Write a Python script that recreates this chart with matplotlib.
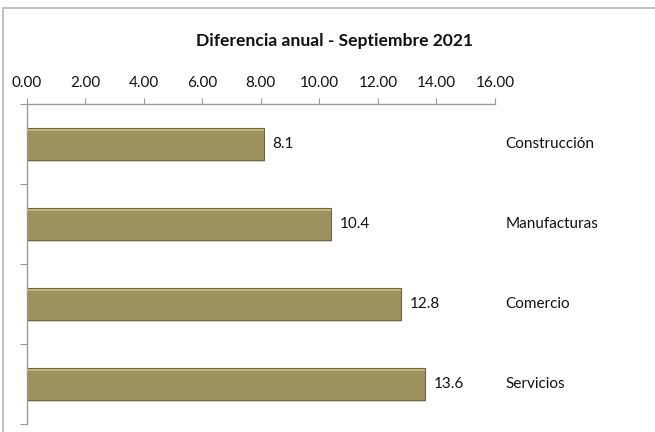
import matplotlib
matplotlib.use("Agg")
import matplotlib.pyplot as plt
from matplotlib.patches import Rectangle
import numpy as np

sectores = ["Construcción", "Manufacturas", "Comercio", "Servicios"]
valores = [8.1, 10.4, 12.8, 13.6]
xticks = [0, 2, 4, 6, 8, 10, 12, 14, 16]
titulo = "Diferencia anual - Septiembre 2021"

plt.rcParams['font.family'] = ['Lato', 'DejaVu Sans']

W, H = 655, 432
fig = plt.figure(figsize=(W / 100, H / 100), dpi=100)

# chart area border (only top and left edges are visible)
fig.patches.append(Rectangle((3 / W, -0.1), 2, 1.1 - 8 / H, transform=fig.transFigure,
                             fill=False, edgecolor='#c0c0c0', linewidth=1.4))

ax = fig.add_axes([26.5 / W, 1 - 424 / H, (495 - 26.5) / W, (424 - 104) / H])

pos = np.arange(len(sectores)) + 0.5
gris = '#9a9a9a'

# shadow, bar, bevel highlight
ax.barh(pos + 0.03, valores, height=0.4, left=0.04, color='#d9d9d9', zorder=1)
ax.barh(pos, valores, height=0.4, color='#9d915e', edgecolor='#6f6640', linewidth=0.8, zorder=2)
ax.barh(pos - 0.18, valores, height=0.025, color='#c2b781', linewidth=0, zorder=3)

for p, v, s in zip(pos, valores, sectores):
    ax.text(v + 0.3, p, f"{v:.1f}", va='center', ha='left', fontsize=11, color='#111111')
    ax.text(16.35, p, s, va='center', ha='left', fontsize=11, color='#111111')

ax.set_xlim(0, 16)
ax.set_ylim(4, 0)
ax.xaxis.tick_top()
ax.set_xticks(xticks)
ax.set_xticklabels([f"{t:.2f}" for t in xticks], fontsize=11, color='#111111')
ax.tick_params(axis='x', direction='out', length=4, color=gris, pad=6)
ax.set_yticks(np.arange(5))
ax.set_yticklabels([])
ax.tick_params(axis='y', direction='out', length=5, color=gris)

for side in ['right', 'bottom']:
    ax.spines[side].set_visible(False)
for side in ['top', 'left']:
    ax.spines[side].set_color(gris)
    ax.spines[side].set_linewidth(1.0)

fig.text(335 / W, 1 - 41 / H, titulo, ha='center', va='center', fontsize=12.6,
         fontweight='bold', color='#111111')

fig.savefig("out.png", dpi=100)
